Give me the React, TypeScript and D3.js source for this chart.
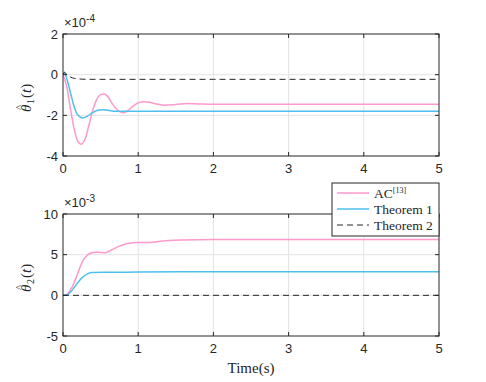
import React from 'react';
import * as d3 from 'd3';

// Top panel, values in units of 1e-4
const acTheta1: [number, number][] = [
  [0, 0], [0.05, -0.6], [0.1, -1.7], [0.15, -2.7], [0.2, -3.3], [0.24, -3.42], [0.3, -3.1],
  [0.35, -2.4], [0.4, -1.7], [0.45, -1.2], [0.5, -0.98], [0.55, -0.95], [0.6, -1.1],
  [0.65, -1.4], [0.7, -1.65], [0.75, -1.82], [0.8, -1.87], [0.85, -1.8], [0.9, -1.65],
  [0.95, -1.5], [1.0, -1.38], [1.08, -1.33], [1.15, -1.36], [1.25, -1.45], [1.35, -1.5],
  [1.5, -1.47], [1.65, -1.42], [1.8, -1.44], [2.0, -1.46], [2.3, -1.45], [3, -1.45], [5, -1.45],
];
const thm1Theta1: [number, number][] = [
  [0, 0], [0.02, 0.08], [0.05, -0.2], [0.1, -0.9], [0.15, -1.6], [0.2, -2.0], [0.26, -2.13],
  [0.32, -2.05], [0.4, -1.85], [0.46, -1.75], [0.52, -1.72], [0.6, -1.75], [0.7, -1.8],
  [0.8, -1.8], [2, -1.8], [5, -1.8],
];
const thm2Theta1: [number, number][] = [
  [0, 0], [0.02, 0.12], [0.05, 0.0], [0.1, -0.12], [0.15, -0.18], [0.25, -0.22],
  [0.4, -0.23], [2, -0.23], [5, -0.23],
];

// Bottom panel, values in units of 1e-3
const acTheta2: [number, number][] = [
  [0, 0], [0.04, 0.05], [0.07, 0.3], [0.12, 1.0], [0.18, 2.3], [0.25, 4.0], [0.31, 4.8],
  [0.37, 5.2], [0.43, 5.3], [0.5, 5.28], [0.56, 5.25], [0.65, 5.6], [0.75, 6.05],
  [0.83, 6.3], [0.96, 6.5], [1.14, 6.5], [1.36, 6.7], [1.58, 6.8], [2.0, 6.85], [5, 6.85],
];
const thm1Theta2: [number, number][] = [
  [0, 0], [0.05, 0.05], [0.1, 0.4], [0.16, 1.1], [0.25, 2.15], [0.34, 2.7], [0.38, 2.8],
  [0.6, 2.83], [1, 2.86], [2, 2.89], [5, 2.89],
];
const thm2Theta2: [number, number][] = [[0, 0], [5, 0]];

const xTicks = [0, 1, 2, 3, 4, 5];
const yTicksTop = [-4, -2, 0, 2];
const yTicksBottom = [-5, 0, 5, 10];
const legendLabels = ['AC', 'Theorem 1', 'Theorem 2'];

const PINK = '#ff99cc';
const BLUE = '#4dbeee';
const DARK = '#262626';
const SANS = 'Liberation Sans, Arial, sans-serif';
const SERIF = 'Liberation Serif, serif';

const left = 63;
const right = 439;

type Series = { data: [number, number][]; color: string; dash?: string };

function Panel({ top, bottom, yDomain, yTicks, series, exp, sub, id }: {
  top: number; bottom: number; yDomain: [number, number]; yTicks: number[];
  series: Series[]; exp: string; sub: string; id: string;
}) {
  const x = d3.scaleLinear().domain([0, 5]).range([left, right]);
  const y = d3.scaleLinear().domain(yDomain).range([bottom, top]);
  const line = d3.line<[number, number]>()
    .x(d => x(d[0]))
    .y(d => y(d[1]))
    .curve(d3.curveMonotoneX);
  const mid = (top + bottom) / 2;
  return (
    <g>
      <defs>
        <clipPath id={id}>
          <rect x={left} y={top} width={right - left} height={bottom - top} />
        </clipPath>
      </defs>
      {xTicks.slice(1, -1).map(t => (
        <line key={'gx' + t} x1={x(t)} x2={x(t)} y1={top} y2={bottom} stroke="#e3e3e3" strokeWidth={1} />
      ))}
      {yTicks.slice(1, -1).map(t => (
        <line key={'gy' + t} x1={left} x2={right} y1={y(t)} y2={y(t)} stroke="#e3e3e3" strokeWidth={1} />
      ))}
      <g clipPath={`url(#${id})`}>
        {series.map((s, i) => (
          <path key={i} d={line(s.data) ?? ''} fill="none" stroke={s.color}
            strokeWidth={s.dash ? 1 : 1.5} strokeDasharray={s.dash} />
        ))}
      </g>
      <rect x={left} y={top} width={right - left} height={bottom - top} fill="none" stroke={DARK} strokeWidth={1} />
      {xTicks.map(t => (
        <g key={'tx' + t}>
          <line x1={x(t)} x2={x(t)} y1={bottom} y2={bottom - 4} stroke={DARK} />
          <line x1={x(t)} x2={x(t)} y1={top} y2={top + 4} stroke={DARK} />
          <text x={x(t)} y={bottom + 17} textAnchor="middle" fontSize={13}
            fontFamily={SANS} fill={DARK}>{t}</text>
        </g>
      ))}
      {yTicks.map(t => (
        <g key={'ty' + t}>
          <line x1={left} x2={left + 4} y1={y(t)} y2={y(t)} stroke={DARK} />
          <line x1={right} x2={right - 4} y1={y(t)} y2={y(t)} stroke={DARK} />
          <text x={left - 5} y={y(t) + 4.7} textAnchor="end" fontSize={13}
            fontFamily={SANS} fill={DARK}>{t}</text>
        </g>
      ))}
      <text x={left + 1} y={top - 7} fontSize={13} fontFamily={SANS} fill={DARK}>
        ×10<tspan dy={-5} fontSize={10}>{exp}</tspan>
      </text>
      <g transform={`translate(31,${mid}) rotate(-90)`} fill={DARK} fontFamily={SERIF}>
        <text x={-17} y={0} fontSize={15} fontStyle="italic">θ</text>
        <text x={-15} y={-8} fontSize={11}>^</text>
        <text x={-9} y={3} fontSize={10}>{sub}</text>
        <text x={-3} y={0} fontSize={15}>(<tspan fontStyle="italic">t</tspan>)</text>
      </g>
    </g>
  );
}

export default function App() {
  const legendColors = [PINK, BLUE, DARK];
  const legendTop = 183;
  return (
    <svg width={486} height={382} style={{ position: 'absolute', left: 0, top: 0, background: '#fff' }}>
      <rect width={486} height={382} fill="#fff" />
      <Panel id="c1" top={34} bottom={156} yDomain={[-4, 2]} yTicks={yTicksTop} exp="-4" sub="1"
        series={[
          { data: acTheta1, color: PINK },
          { data: thm1Theta1, color: BLUE },
          { data: thm2Theta1, color: DARK, dash: '6,4' },
        ]} />
      <Panel id="c2" top={214} bottom={336} yDomain={[-5, 10]} yTicks={yTicksBottom} exp="-3" sub="2"
        series={[
          { data: acTheta2, color: PINK },
          { data: thm1Theta2, color: BLUE },
          { data: thm2Theta2, color: DARK, dash: '6,4' },
        ]} />
      <text x={(left + right) / 2} y={373} textAnchor="middle" fontSize={15}
        fontFamily={SERIF} fill={DARK}>Time(s)</text>
      <g>
        <rect x={332} y={legendTop} width={107} height={53} fill="#fff" stroke={DARK} strokeWidth={1} />
        {legendLabels.map((l, i) => {
          const ly = legendTop + 10 + i * 16;
          return (
            <g key={l}>
              <line x1={337} x2={369} y1={ly} y2={ly} stroke={legendColors[i]}
                strokeWidth={i === 2 ? 1 : 1.5} strokeDasharray={i === 2 ? '6,4' : undefined} />
              <text x={374} y={ly + 4.5} fontSize={13.5} fontFamily={SERIF} fill={DARK}>
                {l}{i === 0 && <tspan dy={-5} fontSize={8}>[13]</tspan>}
              </text>
            </g>
          );
        })}
      </g>
    </svg>
  );
}
